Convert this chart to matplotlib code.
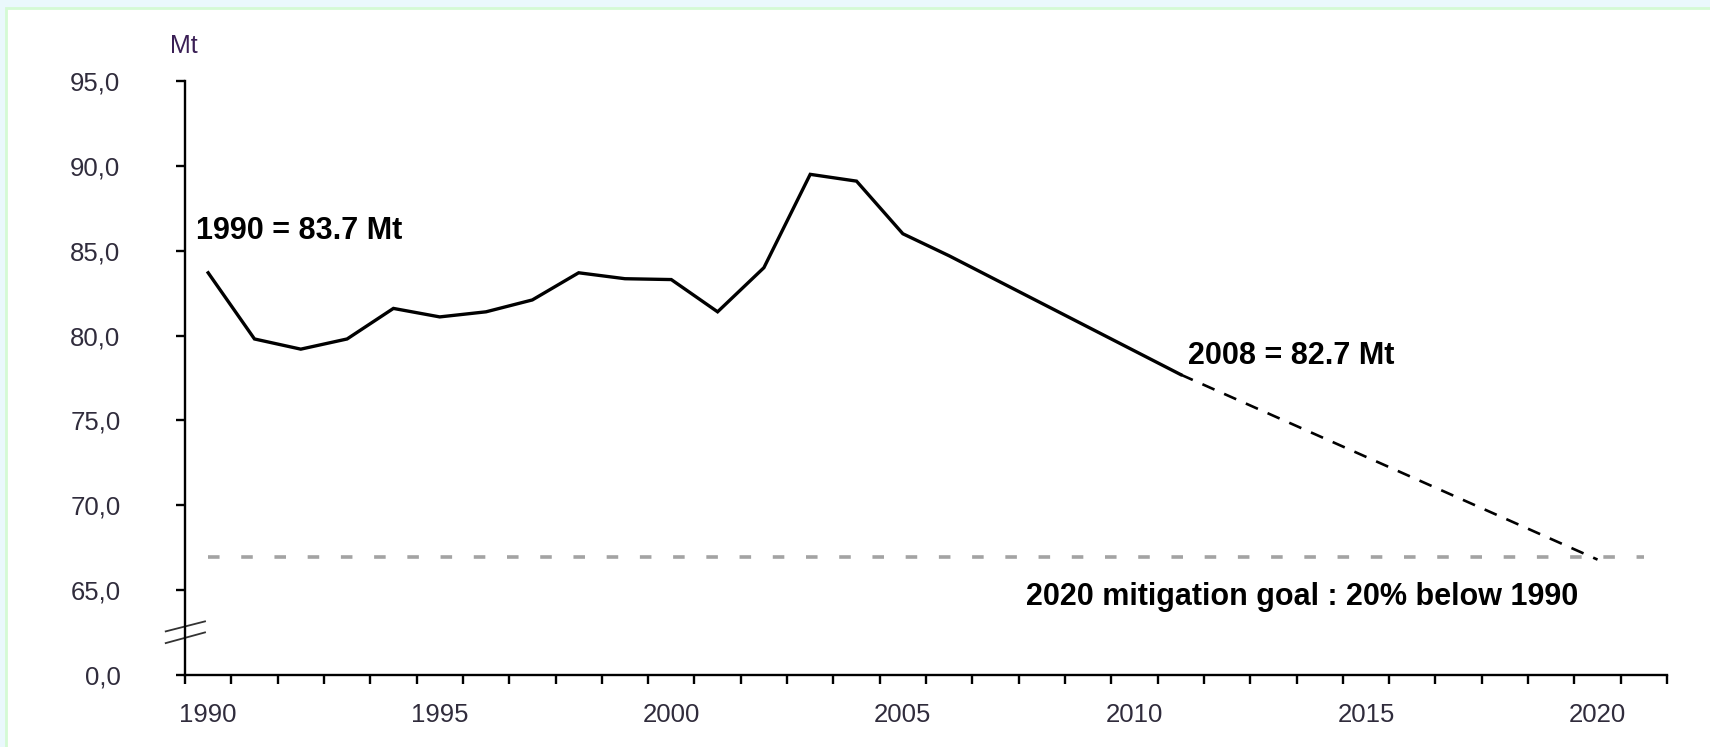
import matplotlib
matplotlib.use("Agg")
import matplotlib.pyplot as plt
from matplotlib.patches import Rectangle
from matplotlib.ticker import FixedLocator, NullFormatter

plt.rcParams['font.family'] = ['Liberation Sans', 'DejaVu Sans']

# emissions, Mt
hist_years = [1990, 1991, 1992, 1993, 1994, 1995, 1996, 1997, 1998, 1999,
              2000, 2001, 2002, 2003, 2004, 2005, 2006, 2011]
hist_values = [83.7, 79.8, 79.2, 79.8, 81.6, 81.1, 81.4, 82.1, 83.7, 83.35,
               83.3, 81.4, 84.0, 89.5, 89.1, 86.0, 84.7, 77.7]

proj_years = [2011, 2020]
proj_values = [77.7, 66.8]

goal_years = [1990, 2021]
goal_value = 66.96

ytick_values = [60, 65, 70, 75, 80, 85, 90, 95]
ytick_labels = ['0,0', '65,0', '70,0', '75,0', '80,0', '85,0', '90,0', '95,0']
xlabel_years = [1990, 1995, 2000, 2005, 2010, 2015, 2020]

label_color = '#302c3c'

fig = plt.figure(figsize=(17.1, 7.47), dpi=100)
fig.patch.set_facecolor('#eaf8fc')
fig.add_artist(Rectangle((6 / 1710, -0.01), 1.0, (747 - 8) / 747 + 0.01,
                         transform=fig.transFigure, facecolor='white',
                         edgecolor='#d4fad4', lw=2, zorder=0))

ax = fig.add_axes([185 / 1710, 72 / 747, 1482 / 1710, 594 / 747])
ax.set_facecolor('none')

ax.plot(hist_years, hist_values, color='black', lw=2.4, solid_joinstyle='miter')
ax.plot(proj_years, proj_values, color='black', lw=1.9, dashes=(5, 4))
ax.plot(goal_years, [goal_value] * len(goal_years), color='#a3a3a3', lw=2.6,
        dashes=(3.2, 6))

ax.set_xlim(1989.5, 2021.5)
ax.set_ylim(60, 95)

# category axis: ticks between years, labels centred on years
ax.xaxis.set_major_locator(FixedLocator([y + 0.5 for y in range(1989, 2022)]))
ax.xaxis.set_major_formatter(NullFormatter())
ax.xaxis.set_minor_locator(FixedLocator(xlabel_years))
ax.set_xticklabels([str(y) for y in xlabel_years], minor=True)
ax.tick_params(axis='x', which='major', direction='out', length=6.5, width=1.7,
               color='black')
ax.tick_params(axis='x', which='minor', length=0, pad=20, labelsize=18.5,
               labelcolor=label_color)

ax.set_yticks(ytick_values)
ax.set_yticklabels(ytick_labels)
ax.tick_params(axis='y', direction='out', length=6.5, width=1.7, pad=40,
               labelsize=18.5, labelcolor=label_color)

for side in ['top', 'right']:
    ax.spines[side].set_visible(False)
for side in ['left', 'bottom']:
    ax.spines[side].set_linewidth(1.7)
    ax.spines[side].set_color('black')

# axis break marks
brk = ax.get_yaxis_transform()
ax.plot([-0.013, 0.0135], [62.57, 63.16], transform=brk, color='#333333',
        lw=1.3, clip_on=False)
ax.plot([-0.013, 0.0135], [61.88, 62.51], transform=brk, color='#333333',
        lw=1.3, clip_on=False)

ax.text(184 / 1710, 1 - 46 / 747, 'Mt', transform=fig.transFigure,
        ha='center', va='center', fontsize=18, color='#3a1f55')

ax.text(1989.74, 85.7, '1990 = 83.7 Mt', fontsize=22, fontweight='bold',
        ha='left', va='baseline', color='black')
ax.text(2011.16, 78.3, '2008 = 82.7 Mt', fontsize=22, fontweight='bold',
        ha='left', va='baseline', color='black')
ax.text(2019.59, 64.12, '2020 mitigation goal : 20% below 1990', fontsize=22,
        fontweight='bold', ha='right', va='baseline', color='black')

fig.savefig('out.png', dpi=100, facecolor=fig.get_facecolor())
